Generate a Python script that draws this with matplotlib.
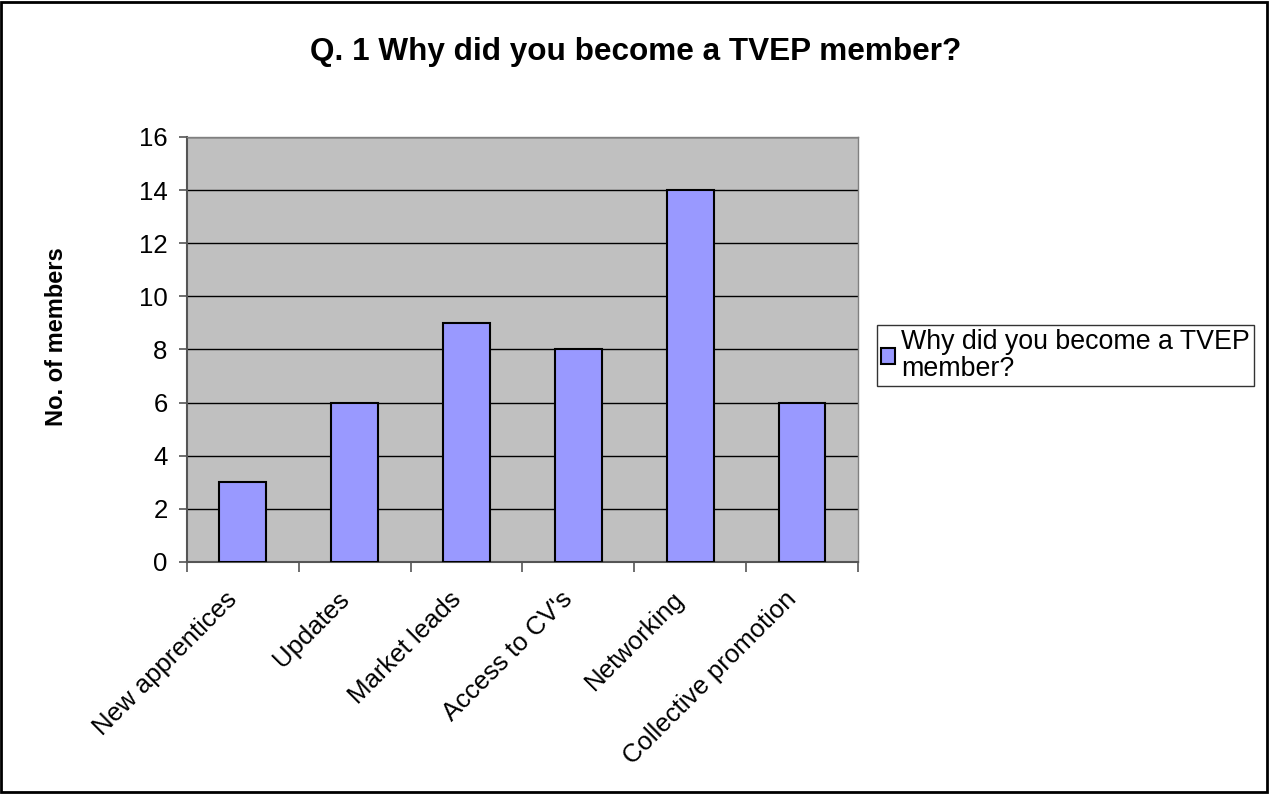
import matplotlib.pyplot as plt
from matplotlib.patches import Rectangle

plt.rcParams['font.family'] = ['Liberation Sans', 'DejaVu Sans']

categories = ["New apprentices", "Updates", "Market leads", "Access to CV's",
              "Networking", "Collective promotion"]
members = [3, 6, 9, 8, 14, 6]
series_name = "Why did you become a TVEP\nmember?"

fig = plt.figure(figsize=(12.71, 7.94), dpi=100)
ax = fig.add_axes([0.1471, 0.2922, 0.5279, 0.5353])
ax.set_facecolor("#C0C0C0")

x = range(len(categories))
ax.bar(x, members, width=0.42, color="#9999FF", edgecolor="black",
       linewidth=1.5, label=series_name, zorder=3)

ax.set_xlim(-0.5, len(categories) - 0.5)
ax.set_ylim(0, 16)
ax.set_yticks(range(0, 17, 2))
ax.yaxis.grid(True, color="black", linewidth=1, zorder=1)
ax.set_axisbelow(True)

# ticks at category boundaries, labels near centers (nudged left like Excel)
ax.set_xticks([i - 0.5 for i in range(len(categories) + 1)])
ax.set_xticklabels([])
ax.set_xticks([i - 0.16 for i in x], minor=True)
ax.set_xticklabels(categories, minor=True, rotation=45, ha="right",
                   rotation_mode="anchor", fontsize=18.5)
ax.tick_params(axis="x", which="minor", length=0, pad=18)
ax.tick_params(axis="x", which="major", length=7, color="#555555", width=1.2)
ax.tick_params(axis="y", length=6, color="#555555", width=1.2, labelsize=18.5,
               pad=8)

for side in ["left", "bottom"]:
    ax.spines[side].set_color("#555555")
    ax.spines[side].set_linewidth(1.5)
for side in ["top", "right"]:
    ax.spines[side].set_color("#808080")
    ax.spines[side].set_linewidth(1.0)

ax.set_ylabel("No. of members", fontsize=17, fontweight="bold")
ax.yaxis.set_label_coords(-0.178, 0.53)
fig.suptitle("Q. 1 Why did you become a TVEP member?", fontsize=22.7,
             fontweight="bold", x=0.5, y=0.935, va="center")

leg = ax.legend(loc="upper left", bbox_to_anchor=(1.028, 0.558),
                fontsize=19.3, frameon=True, fancybox=False, edgecolor="black",
                handlelength=0.55, handleheight=0.55, handletextpad=0.2,
                borderpad=0.15, borderaxespad=0)
leg.get_frame().set_linewidth(1.0)
for t in leg.get_texts():
    t.set_linespacing(1.05)

fig.add_artist(Rectangle((0.001, 0.002), 0.996, 0.995, transform=fig.transFigure,
                         fill=False, edgecolor="black", linewidth=2))

fig.savefig("out.png", dpi=100)
